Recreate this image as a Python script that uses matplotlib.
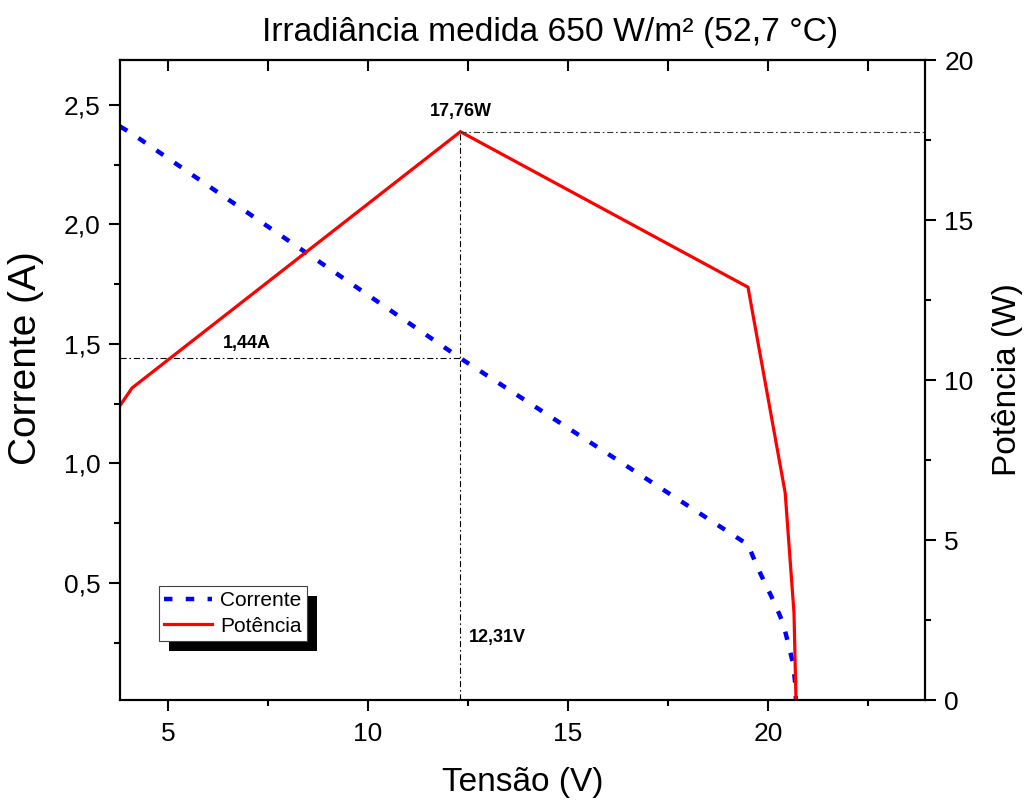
import matplotlib
matplotlib.use("Agg")
import matplotlib.pyplot as plt
import matplotlib.transforms as mtransforms
from matplotlib.patches import Rectangle
from matplotlib.ticker import MultipleLocator, FixedLocator, FuncFormatter

plt.rcParams["font.family"] = ["Liberation Sans", "DejaVu Sans"]

# Measured I-V curve
tensao_corrente = [3.8, 4.1, 12.31, 19.5, 19.75, 20.18, 20.38, 20.5, 20.63, 20.68, 20.7]
corrente = [2.41, 2.38, 1.44, 0.66, 0.56, 0.41, 0.33, 0.25, 0.16, 0.08, 0.0]

# Measured P-V curve
tensao_potencia = [3.8, 4.1, 12.31, 19.5, 20.43, 20.65, 20.7]
potencia = [9.2, 9.75, 17.76, 12.9, 6.47, 2.72, 0.0]

# Maximum power point
v_mp = 12.31
i_mp = 1.44
p_mp = 17.76

titulo = "Irradiância medida 650 W/m² (52,7 °C)"

fig = plt.figure(figsize=(10.25, 8.01), dpi=100)
ax = fig.add_axes([120 / 1025, 1 - 700 / 801, 805 / 1025, 640 / 801])
ax2 = ax.twinx()

xmin, xmax = 3.8, 23.925
ax.set_xlim(xmin, xmax)
ax.set_ylim(0.01, 2.688)
ax2.set_ylim(0, 20)

lw_axes = 1.5
for a in (ax, ax2):
    for s in a.spines.values():
        s.set_linewidth(lw_axes)

# Curves
l1, = ax.plot(tensao_corrente, corrente, color="#0000ff", lw=3.2,
              linestyle=(0, (1.9, 3.0)), dash_capstyle="butt", label="Corrente")
l2, = ax2.plot(tensao_potencia, potencia, color="#ff0000", lw=2.3,
               label="Potência", solid_joinstyle="miter")

# Reference lines at the maximum power point
dd = (0, (5.5, 2.5, 1.5, 2.5))
ax2.plot([v_mp, v_mp], [0, p_mp], color="black", lw=0.8, linestyle=dd)
ax2.plot([v_mp, xmax], [p_mp, p_mp], color="#333333", lw=0.8, linestyle=dd)
ax.plot([xmin, v_mp], [i_mp, i_mp], color="black", lw=0.8, linestyle=dd)

fmt_br = lambda v: ("%g" % v).replace(".", ",")
ax2.text(v_mp, p_mp + 0.35, fmt_br(p_mp) + "W", ha="center", va="bottom",
         fontsize=13, fontweight="bold")
ax.text(6.98, i_mp + 0.025, fmt_br(i_mp) + "A", ha="center", va="bottom",
        fontsize=13, fontweight="bold")
ax2.text(v_mp + 0.22, 1.95, fmt_br(v_mp) + "V", ha="left", va="center",
         fontsize=13, fontweight="bold")

# Ticks
ax.xaxis.set_major_locator(FixedLocator([5, 10, 15, 20]))
ax.xaxis.set_minor_locator(FixedLocator([7.5, 12.5, 17.5, 22.5]))
ax.yaxis.set_major_locator(FixedLocator([0.5, 1.0, 1.5, 2.0, 2.5]))
ax.yaxis.set_minor_locator(FixedLocator([0.25, 0.75, 1.25, 1.75, 2.25]))
ax2.yaxis.set_major_locator(MultipleLocator(5))
ax2.yaxis.set_minor_locator(MultipleLocator(2.5))
ax.yaxis.set_major_formatter(FuncFormatter(lambda v, p: ("%.1f" % v).replace(".", ",")))

for a in (ax, ax2):
    a.tick_params(which="major", direction="out", length=8, width=lw_axes,
                  labelsize=19, pad=6)
    a.tick_params(which="minor", direction="out", length=4.5, width=lw_axes)
ax.tick_params(axis="x", which="major", pad=8)

top = ax.secondary_xaxis("top")
top.set_xticks([5, 7.5, 10, 12.5, 15, 17.5, 20, 22.5])
top.tick_params(direction="in", length=8, width=lw_axes, labeltop=False)
top.spines["top"].set_linewidth(lw_axes)

ax.set_xlabel("Tensão (V)", fontsize=24, labelpad=15)
ax.set_ylabel("Corrente (A)", fontsize=28)
ax.yaxis.set_label_coords(-0.094, 0.534)
ax2.set_ylabel("Potência (W)", fontsize=24, labelpad=13)
ax.set_title(titulo, fontsize=24.2, pad=14, x=0.534)

# Legend with a solid drop shadow
leg = ax2.legend([l1, l2], ["Corrente", "Potência"], loc="upper left",
                 bbox_to_anchor=(0.0484, 0.178), borderaxespad=0,
                 fontsize=15, frameon=True, fancybox=False, shadow=False,
                 handlelength=2.3, handletextpad=0.4, borderpad=0.25,
                 labelspacing=0.3)
leg.get_frame().set_edgecolor("#444444")
leg.get_frame().set_linewidth(0.8)
leg.get_frame().set_alpha(1)
leg.set_zorder(10)

fig.canvas.draw()
bb = leg.get_window_extent().transformed(ax2.transAxes.inverted())
shadow_tr = mtransforms.offset_copy(ax2.transAxes, fig=fig, x=7.2, y=-7.2, units="points")
ax2.add_patch(Rectangle((bb.x0, bb.y0), bb.width, bb.height, transform=shadow_tr,
                        facecolor="black", edgecolor="none", zorder=9, clip_on=False))

fig.savefig("out.png", dpi=100)
